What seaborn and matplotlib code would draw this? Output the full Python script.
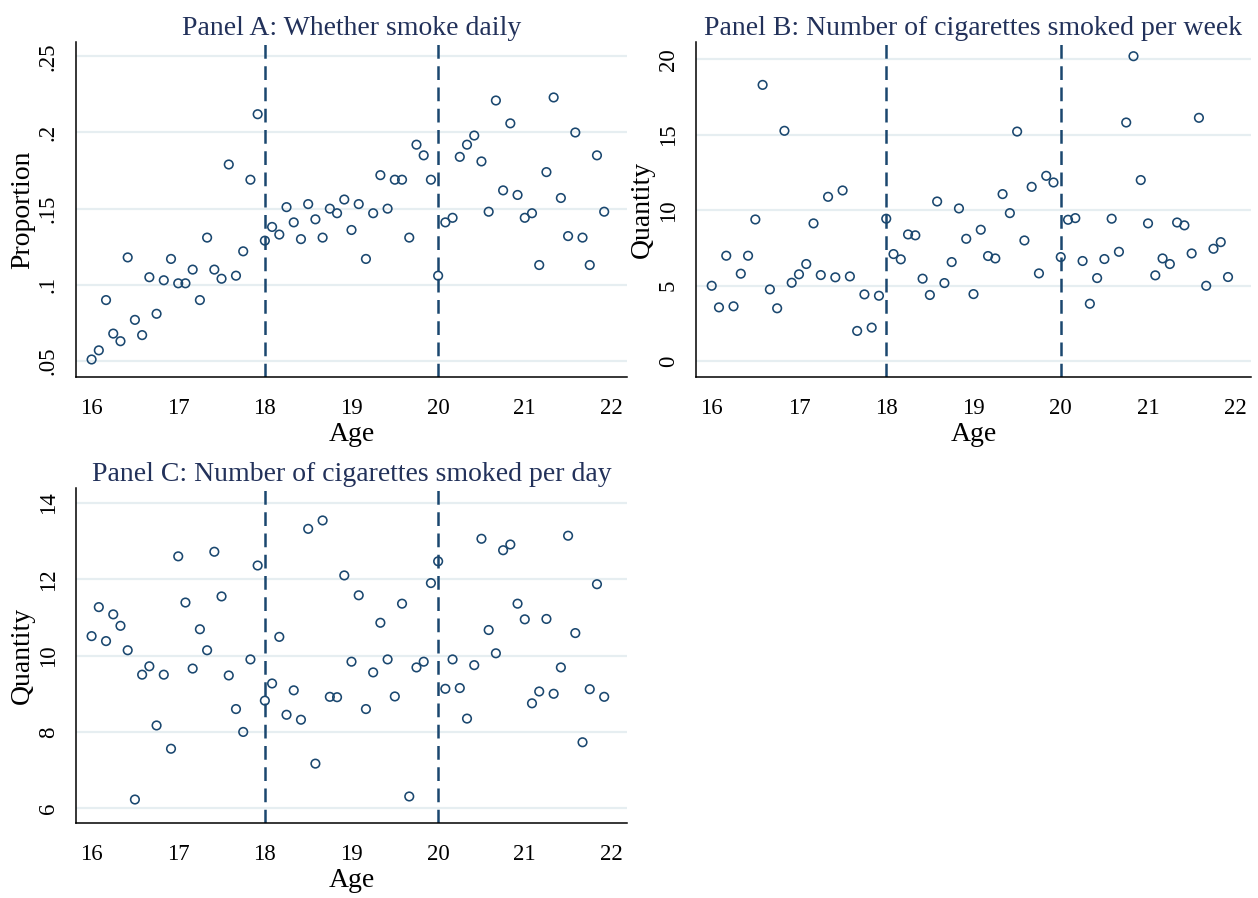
import numpy as np
import pandas as pd
import matplotlib
matplotlib.use("Agg")
import matplotlib.pyplot as plt
import seaborn as sns

# ---- data ----
age_months = np.arange(192, 264)  # monthly age bins, 16y0m .. 21y11m
ages = age_months / 12.0

smoke_daily = [0.051, 0.057, 0.090, 0.068, 0.063, 0.118, 0.077, 0.067, 0.105, 0.081,
               0.103, 0.117, 0.101, 0.101, 0.110, 0.090, 0.131, 0.110, 0.104, 0.179,
               0.106, 0.122, 0.169, 0.212, 0.129, 0.138, 0.133, 0.151, 0.141, 0.130,
               0.153, 0.143, 0.131, 0.150, 0.147, 0.156, 0.136, 0.153, 0.117, 0.147,
               0.172, 0.150, 0.169, 0.169, 0.131, 0.192, 0.185, 0.169, 0.106, 0.141,
               0.144, 0.184, 0.192, 0.198, 0.181, 0.148, 0.221, 0.162, 0.206, 0.159,
               0.144, 0.147, 0.113, 0.174, 0.223, 0.157, 0.132, 0.200, 0.131, 0.113,
               0.185, 0.148]

cigs_week = [5.00, 3.57, 6.99, 3.64, 5.80, 6.99, 9.39, 18.30, 4.76, 3.51,
             15.26, 5.20, 5.76, 6.44, 9.13, 5.71, 10.89, 5.56, 11.31, 5.62,
             2.01, 4.43, 2.23, 4.34, 9.44, 7.10, 6.75, 8.40, 8.34, 5.47,
             4.39, 10.58, 5.18, 6.57, 10.12, 8.11, 4.45, 8.71, 6.97, 6.81,
             11.07, 9.81, 15.21, 8.00, 11.55, 5.82, 12.28, 11.84, 6.90, 9.37,
             9.48, 6.64, 3.81, 5.51, 6.77, 9.44, 7.25, 15.81, 20.20, 12.00,
             9.13, 5.69, 6.81, 6.44, 9.19, 9.00, 7.14, 16.12, 5.00, 7.45,
             7.89, 5.58]

cigs_day = [10.51, 11.27, 10.38, 11.08, 10.78, 10.14, 6.23, 9.50, 9.72, 8.17,
            9.50, 7.56, 12.60, 11.39, 9.66, 10.69, 10.14, 12.72, 11.55, 9.48,
            8.60, 8.00, 9.90, 12.36, 8.82, 9.27, 10.49, 8.45, 9.09, 8.32,
            13.32, 7.17, 13.54, 8.92, 8.91, 12.10, 9.84, 11.58, 8.60, 9.56,
            10.86, 9.90, 8.93, 11.36, 6.31, 9.69, 9.84, 11.90, 12.47, 9.13,
            9.90, 9.15, 8.35, 9.75, 13.06, 10.67, 10.06, 12.76, 12.91, 11.36,
            10.95, 8.75, 9.06, 10.96, 9.00, 9.69, 13.14, 10.59, 7.73, 9.12,
            11.87, 8.92]

x_ticks = [16, 17, 18, 19, 20, 21, 22]
cutoffs = [18, 20]

a_ticks = [0.05, 0.10, 0.15, 0.20, 0.25]
a_labels = [".05", ".1", ".15", ".2", ".25"]
b_ticks = [0, 5, 10, 15, 20]
b_labels = ["0", "5", "10", "15", "20"]
c_ticks = [6, 8, 10, 12, 14]
c_labels = ["6", "8", "10", "12", "14"]

titles = ["Panel A: Whether smoke daily",
          "Panel B: Number of cigarettes smoked per week",
          "Panel C: Number of cigarettes smoked per day"]
ylabels = ["Proportion", "Quantity", "Quantity"]

df = pd.DataFrame({"age": ages, "daily": smoke_daily,
                   "week": cigs_week, "day": cigs_day})

# ---- style ----
sns.set_theme(style="white")
plt.rcParams["font.family"] = ["Liberation Serif", "DejaVu Serif"]

NAVY = "#1a476f"
TITLE = "#22315a"
GRID = "#e6eef1"

W, H = 1258, 898
fig = plt.figure(figsize=(W / 100, H / 100), dpi=100)
fig.patch.set_facecolor("white")


def px_axes(left, top, right, bottom):
    return fig.add_axes([left / W, 1 - bottom / H, (right - left) / W, (bottom - top) / H])


axA = px_axes(76, 42, 627, 377)
axB = px_axes(696, 42, 1251, 377)
axC = px_axes(76, 488, 627, 823)

specs = [
    (axA, "daily", a_ticks, a_labels, (0.0395, 0.2594)),
    (axB, "week", b_ticks, b_labels, (-1.04, 21.14)),
    (axC, "day", c_ticks, c_labels, (5.615, 14.39)),
]

for i, (ax, col, yt, yl, ylim) in enumerate(specs):
    for yv in yt:
        ax.axhline(yv, color=GRID, lw=1.6, zorder=0)
    for c in cutoffs:
        ax.axvline(c, color=NAVY, lw=1.8, ls=(0, (5.5, 3.0)), zorder=1)
    sns.scatterplot(data=df, x="age", y=col, ax=ax, marker="o", s=38,
                    facecolor="none", edgecolor=NAVY, linewidth=1.15, zorder=3)
    ax.set_xlim(15.82, 22.18)
    ax.set_ylim(*ylim)
    ax.set_xticks(x_ticks)
    ax.set_xticklabels([str(t) for t in x_ticks])
    ax.set_yticks(yt)
    ax.set_yticklabels(yl)
    for lab in ax.get_yticklabels():
        lab.set_rotation(90)
        lab.set_va("center")
    ax.tick_params(axis="both", which="major", direction="out", length=6,
                   width=1.1, color="black", labelsize=16.5, labelcolor="black")
    ax.tick_params(axis="x", pad=9)
    ax.tick_params(axis="y", pad=6.5)
    for s in ["top", "right"]:
        ax.spines[s].set_visible(False)
    for s in ["left", "bottom"]:
        ax.spines[s].set_color("black")
        ax.spines[s].set_linewidth(1.1)
    ax.set_xlabel("Age", fontsize=20, color="black", labelpad=2)
    ax.set_ylabel(ylabels[i], fontsize=20, color="black", labelpad=2)
    ax.set_title(titles[i], fontsize=20, color=TITLE, pad=5)
    ax.set_facecolor("white")

fig.savefig("out.png", dpi=100, facecolor="white")
